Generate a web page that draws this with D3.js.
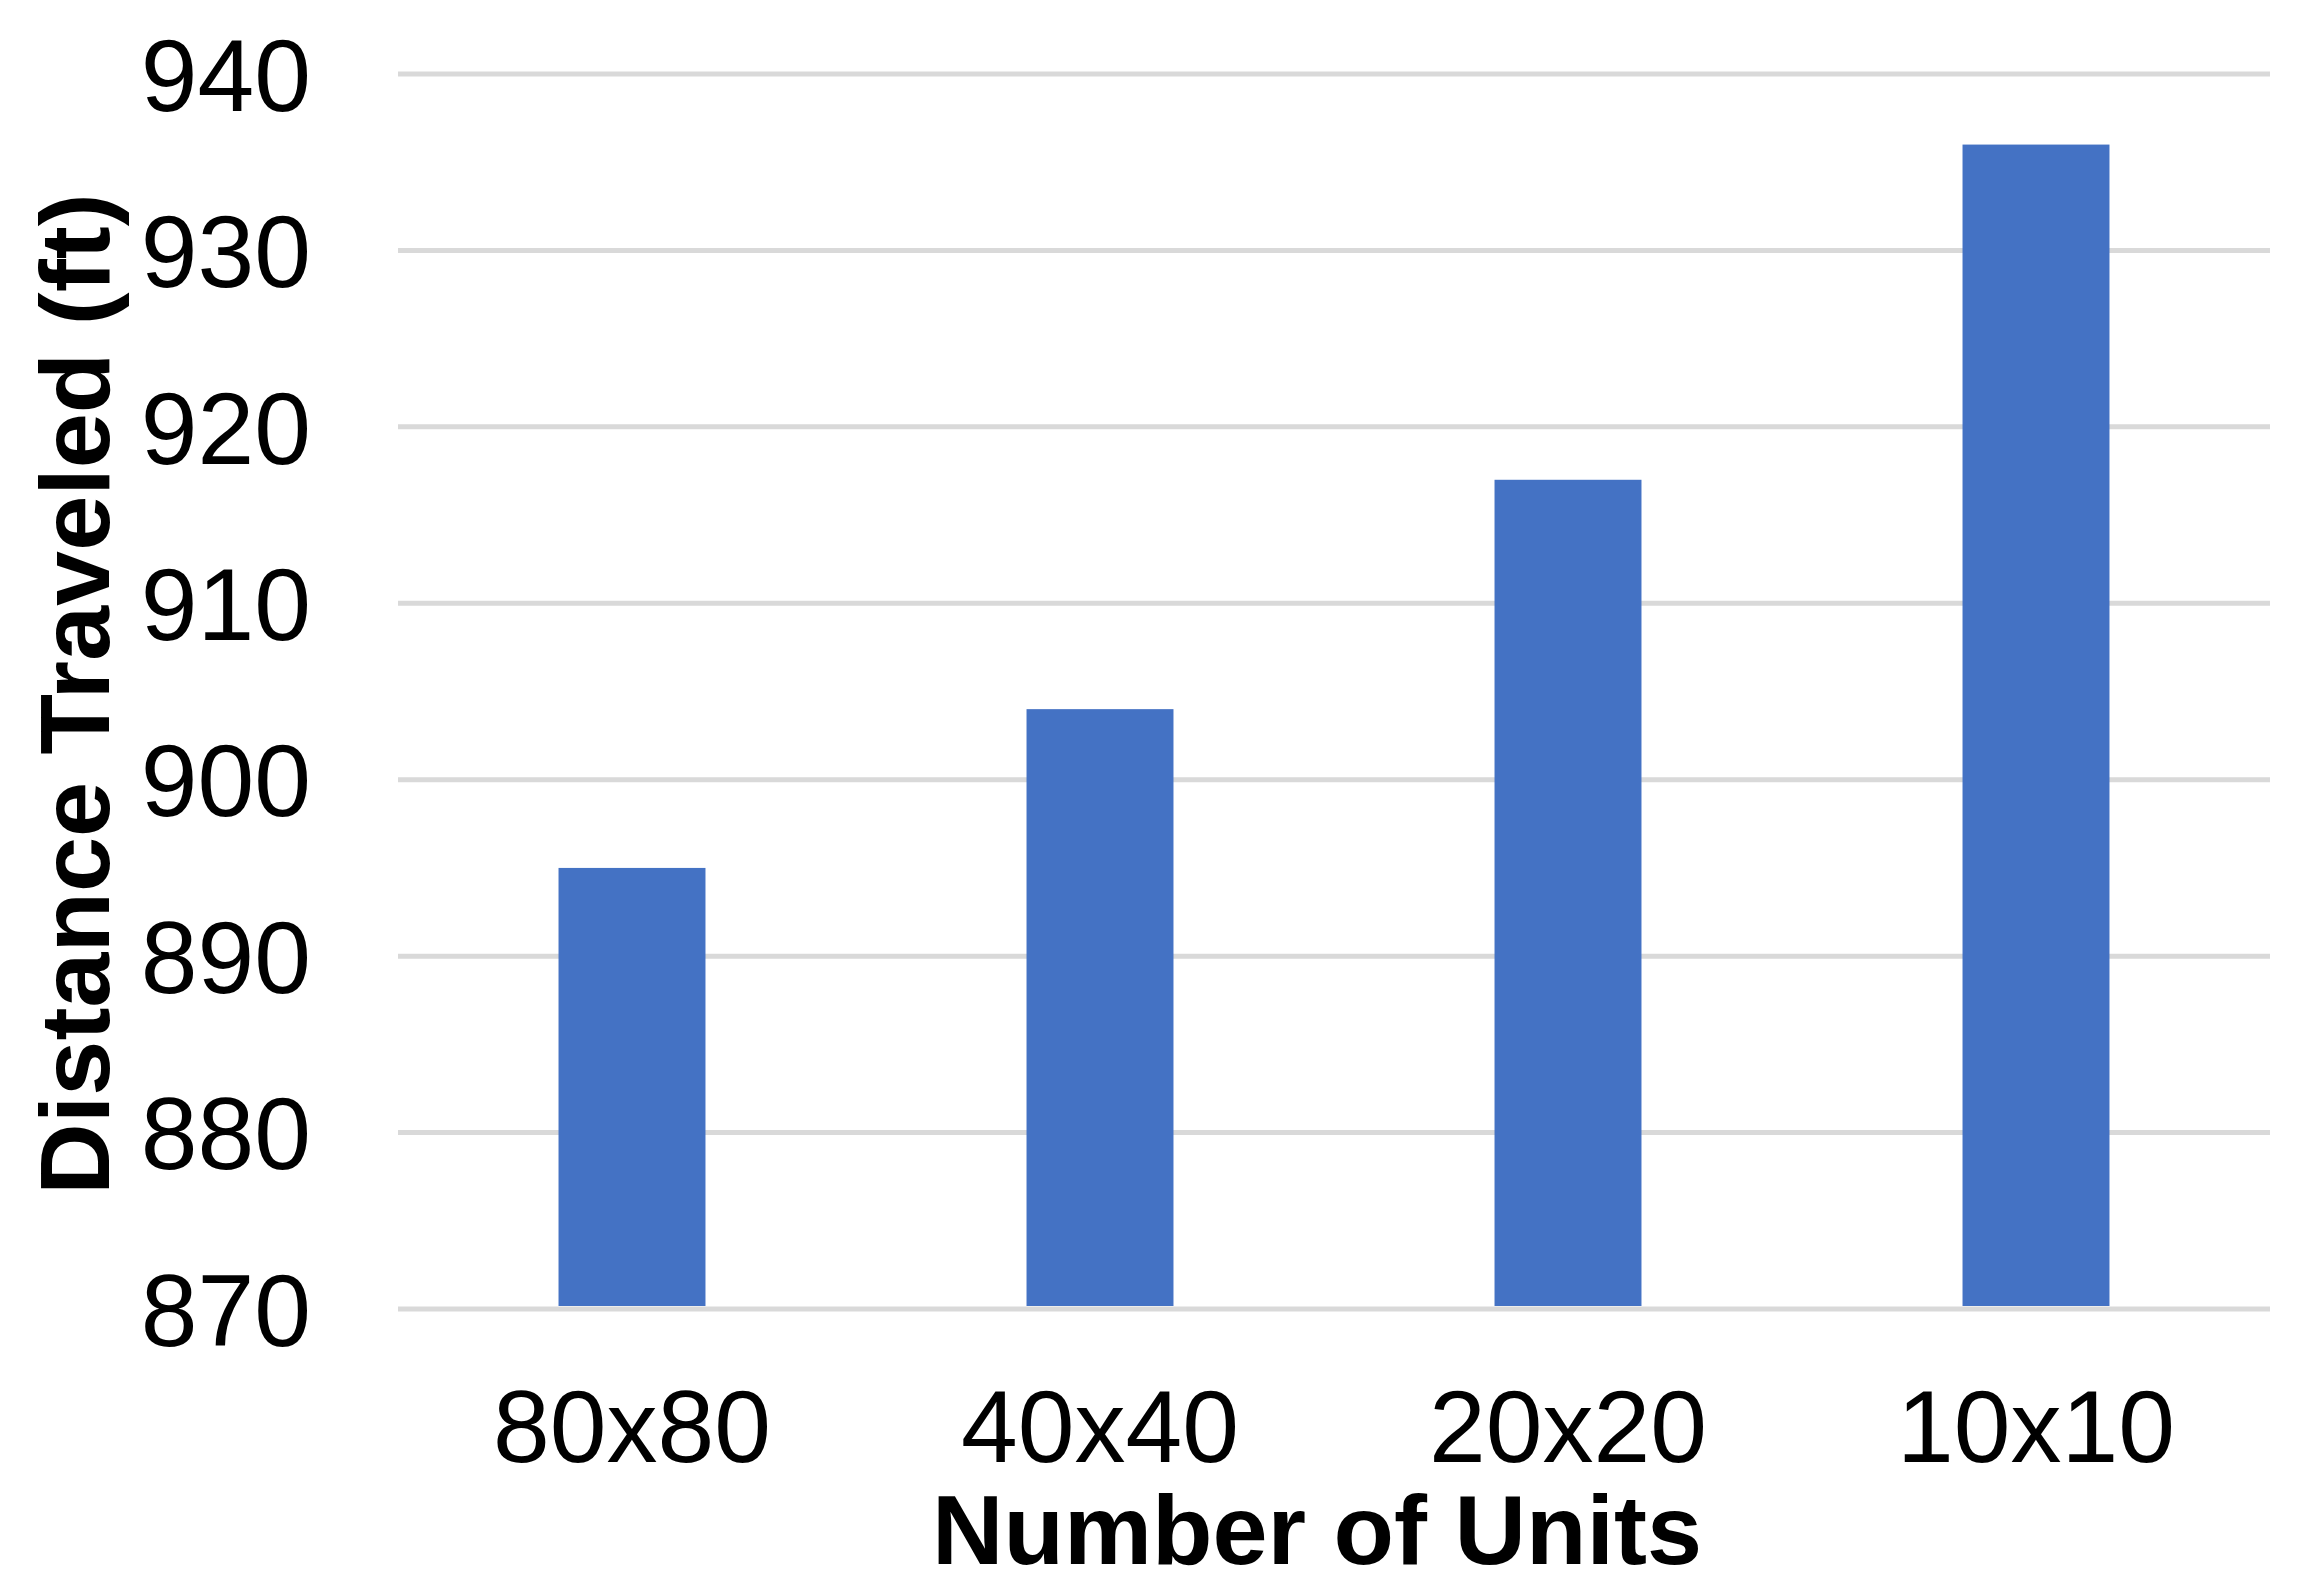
<!DOCTYPE html>
<html><head><meta charset="utf-8">
<script src="https://cdn.jsdelivr.net/npm/d3@7"></script>
<style>body{margin:0;background:#fff}</style></head>
<body><svg id="c" width="2304" height="1591"></svg>
<script>
const categories = ["80x80","40x40","20x20","10x10"];
const values = [895, 904, 917, 936];
const yTicks = [870,880,890,900,910,920,930,940];

const svg = d3.select("#c");
const L=398, R=2270, T=74, B=1309;
const x = d3.scaleBand().domain(categories).range([L,R]).paddingInner(0.686).paddingOuter(0.343);
const y = d3.scaleLinear().domain([870,940]).range([B,T]);
const font = "Liberation Sans, Arial, sans-serif";

svg.append("g").selectAll("line").data(yTicks).join("line")
  .attr("x1",L).attr("x2",R).attr("y1",d=>y(d)).attr("y2",d=>y(d))
  .attr("stroke","#d9d9d9").attr("stroke-width",5);

svg.append("g").selectAll("rect").data(values).join("rect")
  .attr("x",(d,i)=>x(categories[i])).attr("width",x.bandwidth())
  .attr("y",d=>y(d)).attr("height",d=>y(870)-y(d)-3).attr("fill","#4472C4");

svg.append("g").selectAll("text").data(yTicks).join("text")
  .attr("x",311).attr("y",d=>y(d)).attr("dy","0.36em").attr("text-anchor","end")
  .attr("font-family",font).attr("font-size",102).text(d=>d);

svg.append("g").selectAll("text").data(categories).join("text")
  .attr("x",d=>x(d)+x.bandwidth()/2).attr("y",1425).attr("dy","0.36em").attr("text-anchor","middle")
  .attr("font-family",font).attr("font-size",102).text(d=>d);

svg.append("text").attr("x",(L+R)/2-17).attr("y",1528).attr("dy","0.36em").attr("text-anchor","middle")
  .attr("font-family",font).attr("font-weight","bold").attr("font-size",99).text("Number of Units");

svg.append("text").attr("transform","translate(73,694) rotate(-90)").attr("dy","0.36em").attr("text-anchor","middle")
  .attr("font-family",font).attr("font-weight","bold").attr("font-size",99).text("Distance Traveled (ft)");
</script></body></html>
